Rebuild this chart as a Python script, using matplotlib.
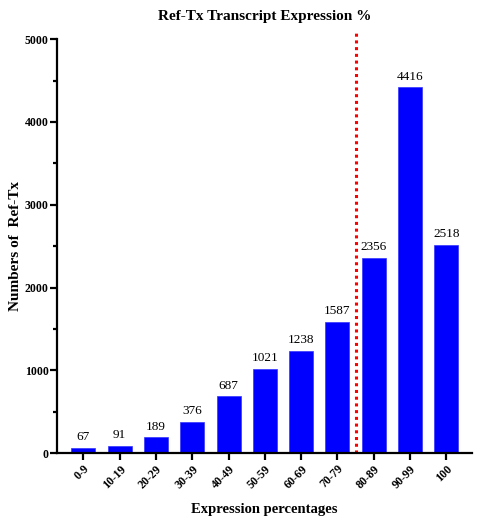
import matplotlib
matplotlib.use('Agg')
import matplotlib.pyplot as plt
from matplotlib.ticker import MultipleLocator

categories = ['0-9', '10-19', '20-29', '30-39', '40-49', '50-59', '60-69',
              '70-79', '80-89', '90-99', '100']
counts = [67, 91, 189, 376, 687, 1021, 1238, 1587, 2356, 4416, 2518]
cutoff_pos = 7.5

plt.rcParams['font.family'] = ['Liberation Serif', 'DejaVu Serif']

fig = plt.figure(figsize=(4.8, 5.22), dpi=100)
ax = fig.add_axes([0.119, 0.132, 0.864, 0.793])

x = list(range(len(categories)))
bars = ax.bar(x, counts, width=0.66, color='#0000FF', edgecolor='#3333FF', linewidth=0.5)
for xi, v in zip(x, counts):
    ax.text(xi, v + 55, str(v), ha='center', va='bottom', fontsize=9.5)

ax.plot([cutoff_pos, cutoff_pos], [0, 5085], color='red', linestyle=(0, (1, 1.2)),
        linewidth=2.2, clip_on=False)

ax.set_xlim(-0.72, 10.7)
ax.set_ylim(0, 5000)
ax.yaxis.set_major_locator(MultipleLocator(1000))
ax.yaxis.set_minor_locator(MultipleLocator(500))
ax.set_xticks(x)
ax.set_xticklabels(categories, rotation=45, ha='right', rotation_mode='anchor',
                   fontweight='bold', fontsize=8.5)
for lab in ax.get_yticklabels():
    lab.set_fontweight('bold')
    lab.set_fontsize(8.5)

for side in ['top', 'right']:
    ax.spines[side].set_visible(False)
for side in ['left', 'bottom']:
    ax.spines[side].set_linewidth(1.6)
ax.tick_params(axis='both', which='major', width=1.6, length=5, direction='out')
ax.tick_params(axis='y', which='minor', width=1.6, length=3)
ax.tick_params(axis='x', pad=2)
ax.tick_params(axis='y', pad=1)

ax.set_title('Ref-Tx Transcript Expression %', fontweight='bold', fontsize=11, pad=14)
ax.set_xlabel('Expression percentages', fontweight='bold', fontsize=10.5, labelpad=9)
ax.set_ylabel('Numbers of  Ref-Tx', fontweight='bold', fontsize=11)
ax.yaxis.set_label_coords(-0.085, 0.5)

fig.savefig('out.png', dpi=100)
